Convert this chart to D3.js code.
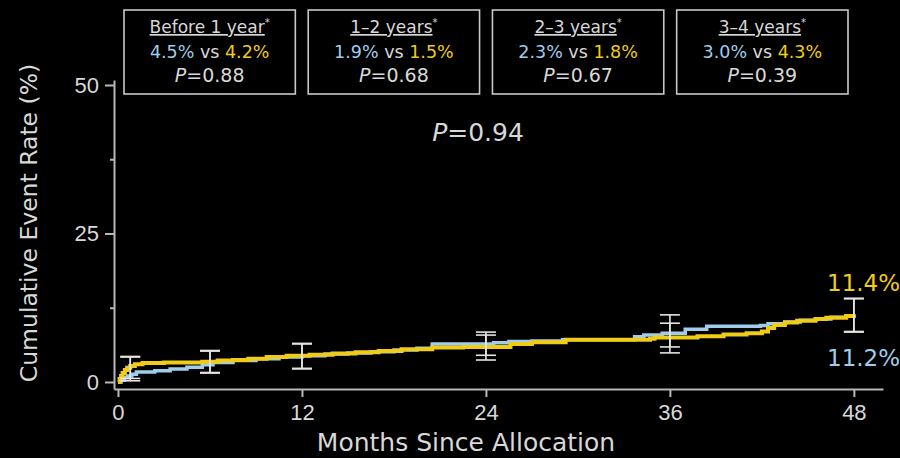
<!DOCTYPE html>
<html>
<head>
<meta charset="utf-8">
<script src="https://cdn.jsdelivr.net/npm/d3@7"></script>
<style>
  html, body { margin: 0; padding: 0; background: #000; }
  svg { display: block; font-family: "DejaVu Sans", Verdana, sans-serif; }
</style>
</head>
<body>
<div id="chart"></div>
<script>
// Kaplan-Meier curves (months, cumulative %)
const blueMonths  = [0, 0.2, 0.4, 0.6, 0.9, 1.2, 2.4, 3.4, 4.5, 5.5, 6.2, 7.5, 9, 10.5, 12, 13.5, 15, 16.5, 18, 19.5, 20.5, 24.5, 25.5, 27, 29, 33.7, 34.3, 35.5, 37, 38.4, 41.9, 42.4, 43.5, 44.5, 45.5, 46.5, 47.5, 48];
const blueRates   = [0, 0.3, 0.7, 1.0, 1.3, 1.7, 1.9, 2.2, 2.5, 2.9, 3.3, 3.6, 3.9, 4.2, 4.4, 4.7, 4.9, 5.1, 5.4, 5.7, 6.4, 6.6, 6.8, 6.9, 7.1, 7.6, 7.9, 8.2, 8.9, 9.4, 9.5, 9.8, 10.1, 10.4, 10.6, 10.9, 11.1, 11.2];
const yellowMonths = [0, 0.1, 0.2, 0.3, 0.45, 0.6, 0.8, 1.1, 1.6, 3, 5.5, 6.5, 7.5, 8.5, 9.7, 11, 12.5, 14, 15.5, 17, 18.5, 20.5, 22.5, 25.6, 27, 29.2, 34.7, 35, 37.8, 39.5, 41, 42, 42.4, 42.8, 43.5, 44.3, 45.5, 46.2, 47.5, 48];
const yellowRates  = [0, 0.5, 1.0, 1.5, 2.0, 2.4, 2.7, 3.0, 3.2, 3.3, 3.4, 3.6, 3.7, 3.9, 4.2, 4.4, 4.6, 4.8, 5.0, 5.2, 5.5, 5.8, 5.9, 6.4, 6.7, 7.1, 7.3, 7.5, 7.7, 8.0, 8.2, 8.5, 9.1, 9.6, 10.0, 10.3, 10.6, 10.8, 11.1, 11.4];

// confidence intervals
const ciMonths = [0.8, 6, 12, 24, 36, 48];
const blueLo   = [0.2, 1.5, 2.2, 4.5, 5.9, 8.4];
const blueHi   = [4.2, 5.2, 6.4, 8.4, 11.3, 14.0];
const yellowLo = [0.6, 1.6, 2.3, 3.7, 4.9, 8.5];
const yellowHi = [4.3, 5.3, 6.5, 7.9, 9.9, 14.1];

// landmark boxes
const periods       = ['Before 1 year', '1\u20132 years', '2\u20133 years', '3\u20134 years'];
const periodBlue    = ['4.5%', '1.9%', '2.3%', '3.0%'];
const periodYellow  = ['4.2%', '1.5%', '1.8%', '4.3%'];
const periodP       = ['0.88', '0.68', '0.67', '0.39'];

const xTicks = [0, 12, 24, 36, 48];
const yTicks = [0, 25, 50];
const yMinorTicks = [12.5, 37.5];
const overallP = '0.94';
const endBlue = '11.2%';
const endYellow = '11.4%';

const BLUE = '#9fcdec';
const YELLOW = '#f0cc16';
const GREY = '#d8d8d8';
const AXIS = '#b8b8b8';

const W = 900, H = 458;

const svg = d3.select('#chart').append('svg')
  .attr('width', W).attr('height', H)
  .attr('viewBox', `0 0 ${W} ${H}`);

svg.append('rect').attr('width', W).attr('height', H).attr('fill', '#000');

const x = d3.scaleLinear().domain([-0.26, 49.9]).range([114, 883]);
const y = d3.scaleLinear().domain([-1.18, 50.84]).range([389, 80]);

// axes
const xAxis = svg.append('g')
  .attr('transform', `translate(0,${y(-1.18)})`)
  .call(d3.axisBottom(x).tickValues(xTicks).tickSize(8).tickSizeOuter(0).tickPadding(7));
xAxis.selectAll('text').attr('fill', GREY).attr('font-size', 22).attr('font-family', null);

const yAxis = svg.append('g')
  .attr('transform', `translate(${x(-0.26)},0)`)
  .call(d3.axisLeft(y).tickValues(yTicks).tickSize(9).tickSizeOuter(0).tickPadding(6));
yAxis.selectAll('text').attr('fill', GREY).attr('font-size', 22).attr('font-family', null);

svg.append('g')
  .attr('transform', `translate(${x(-0.26)},0)`)
  .call(d3.axisLeft(y).tickValues(yMinorTicks).tickSize(4).tickSizeOuter(0).tickFormat(''))
  .select('.domain').remove();

svg.selectAll('.domain, .tick line').attr('stroke', AXIS).attr('stroke-width', 2);

// axis titles
svg.append('text')
  .attr('transform', `translate(37,223) rotate(-90)`)
  .attr('text-anchor', 'middle')
  .attr('fill', GREY).attr('font-size', 23.5)
  .text('Cumulative Event Rate (%)');

svg.append('text')
  .attr('x', 466).attr('y', 451)
  .attr('text-anchor', 'middle')
  .attr('fill', GREY).attr('font-size', 25)
  .text('Months Since Allocation');

// curves
const line = d3.line()
  .x(d => x(d[0])).y(d => y(d[1]))
  .curve(d3.curveStepAfter);

const blueData = d3.zip(blueMonths, blueRates);
const yellowData = d3.zip(yellowMonths, yellowRates);

svg.append('path').datum(blueData)
  .attr('d', line).attr('fill', 'none')
  .attr('stroke', BLUE).attr('stroke-width', 3.5);

svg.append('path').datum(yellowData)
  .attr('d', line).attr('fill', 'none')
  .attr('stroke', YELLOW).attr('stroke-width', 4);

// error bars
function drawCI(lo, hi) {
  const g = svg.append('g').attr('stroke', '#e4e4e4').attr('stroke-width', 1.6);
  ciMonths.forEach((m, i) => {
    const cx = x(m);
    g.append('line').attr('x1', cx).attr('x2', cx).attr('y1', y(lo[i])).attr('y2', y(hi[i]));
    g.append('line').attr('x1', cx - 10).attr('x2', cx + 10).attr('y1', y(lo[i])).attr('y2', y(lo[i]));
    g.append('line').attr('x1', cx - 10).attr('x2', cx + 10).attr('y1', y(hi[i])).attr('y2', y(hi[i]));
  });
}
drawCI(blueLo, blueHi);
drawCI(yellowLo, yellowHi);

// end labels
svg.append('text').attr('x', 827).attr('y', 291)
  .attr('fill', YELLOW).attr('font-size', 23).text(endYellow);
svg.append('text').attr('x', 827).attr('y', 366)
  .attr('fill', BLUE).attr('font-size', 23).text(endBlue);

// overall P
const pText = svg.append('text')
  .attr('x', 478).attr('y', 141)
  .attr('text-anchor', 'middle')
  .attr('fill', GREY).attr('font-size', 25);
pText.append('tspan').attr('font-style', 'italic').text('P');
pText.append('tspan').text('=' + overallP);

// landmark boxes
const band = d3.scaleBand().domain(periods).range([124, 848]).paddingInner(0.07);

const boxes = svg.selectAll('.box')
  .data(periods)
  .join('g')
  .attr('class', 'box')
  .attr('transform', d => `translate(${band(d)},10)`);

boxes.append('rect')
  .attr('width', band.bandwidth()).attr('height', 84)
  .attr('fill', '#000').attr('stroke', '#c8c8c8').attr('stroke-width', 1.6);

const cx = band.bandwidth() / 2;

const title = boxes.append('text')
  .attr('x', cx).attr('y', 23)
  .attr('text-anchor', 'middle')
  .attr('fill', GREY).attr('font-size', 17);
title.append('tspan').attr('text-decoration', 'underline').text(d => d);
title.append('tspan').attr('dy', -7).attr('font-size', 10).text('*');

const rates = boxes.append('text')
  .attr('x', cx).attr('y', 48)
  .attr('text-anchor', 'middle')
  .attr('font-size', 17.5);
rates.append('tspan').attr('fill', BLUE).text((d, i) => periodBlue[i]);
rates.append('tspan').attr('fill', GREY).text(' vs ');
rates.append('tspan').attr('fill', YELLOW).text((d, i) => periodYellow[i]);

const pv = boxes.append('text')
  .attr('x', cx).attr('y', 72)
  .attr('text-anchor', 'middle')
  .attr('fill', GREY).attr('font-size', 19);
pv.append('tspan').attr('font-style', 'italic').text('P');
pv.append('tspan').text((d, i) => '=' + periodP[i]);
</script>
</body>
</html>
